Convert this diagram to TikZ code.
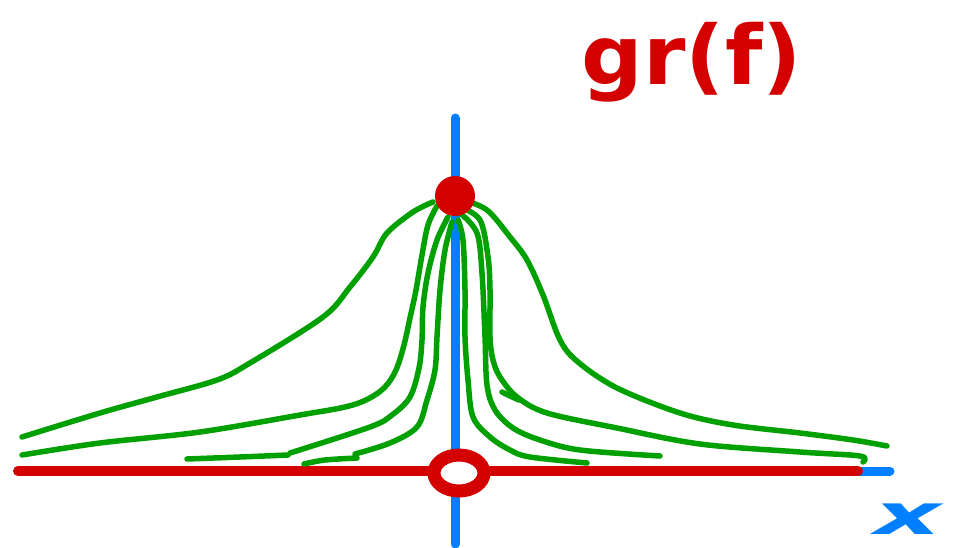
\documentclass[tikz,border=0pt]{standalone}
\usepackage{fontspec}
\newfontfamily\handfont{DejaVu Sans}
\definecolor{sred}{RGB}{212,0,0}
\definecolor{sblue}{RGB}{0,128,255}
\definecolor{sgreen}{RGB}{0,160,0}
\tikzset{
  axisblue/.style={draw=sblue,line width=9pt,line cap=round},
  axisred/.style={draw=sred,line width=10pt,line cap=round},
  curve/.style={draw=sgreen,line width=5.5pt,line cap=round,line join=round},
  hand/.style={text=sred,font=\handfont\bfseries\fontsize{82}{84}\selectfont,inner sep=0pt}
}
\begin{document}
\begin{tikzpicture}[x=1pt,y=-1pt]
\useasboundingbox (0,0) rectangle (956,548);
% axes
\draw[axisblue] (455,118) -- (455,544);
\draw[axisblue] (20,471) -- (890,471);
\draw[axisred] (18,471) -- (858,471);
% green curves, left
\draw[curve] plot[smooth,tension=0.55] coordinates {(433,202)(413,212)(387,233)(373,257)(350,287)(323,317)(250,363)(217,380)(157,397)(100,413)(22,437)};
\draw[curve] plot[smooth,tension=0.55] coordinates {(437,206)(428,225)(422,255)(416,290)(410,318)(404,345)(396,370)(385,387)(368,399)(345,407)(300,415)(200,432)(100,443)(22,455)};
\draw[curve] plot[smooth,tension=0.55] coordinates {(448,217)(437,240)(428,273)(423,307)(422,340)(419,368)(410,397)(392,415)(370,427)(290,453)};
\draw[curve] plot[smooth,tension=0.55] coordinates {(187,459)(240,457)(288,455)};
\draw[curve] plot[smooth,tension=0.55] coordinates {(452,222)(445,250)(440,290)(437,337)(435,370)(427,400)(417,427)(390,443)(355,454)};
\draw[curve] plot[smooth,tension=0.55] coordinates {(304,464)(325,460)(357,458)};
% green curves, right
\draw[curve] plot[smooth,tension=0.55] coordinates {(463,200)(487,210)(510,237)(527,260)(543,295)(560,340)(578,362)(617,388)(680,413)(733,425)(800,433)(853,440)(887,446)};
\draw[curve] plot[smooth,tension=0.55] coordinates {(460,207)(480,220)(488,257)(490,290)(490,337)(493,360)(500,377)(517,397)(547,413)(617,428)(700,444)(800,452)(860,456)(863,462)};
\draw[curve] plot[smooth,tension=0.55] coordinates {(502,392)(510,396)(519,400)};
\draw[curve] plot[smooth,tension=0.55] coordinates {(460,213)(477,233)(482,273)(485,337)(487,385)(495,410)(513,428)(540,440)(580,450)(660,456)};
\draw[curve] plot[smooth,tension=0.55] coordinates {(458,220)(463,240)(465,290)(465,337)(468,380)(473,417)(490,437)(510,450)(530,457)(587,463)};
% red marks
\fill[sred] (455,196) circle[radius=20];
\draw[sred,line width=13pt,fill=white] (459,473) ellipse[x radius=25, y radius=18];
% labels
\node[hand,xscale=1.05] (gr) at (692,62) {gr(f)};
\node[text=sblue,font=\handfont\bfseries\itshape\fontsize{56}{58}\selectfont,inner sep=0pt,xscale=1.85] (xl) at (908,519) {x};
\end{tikzpicture}
\end{document}
